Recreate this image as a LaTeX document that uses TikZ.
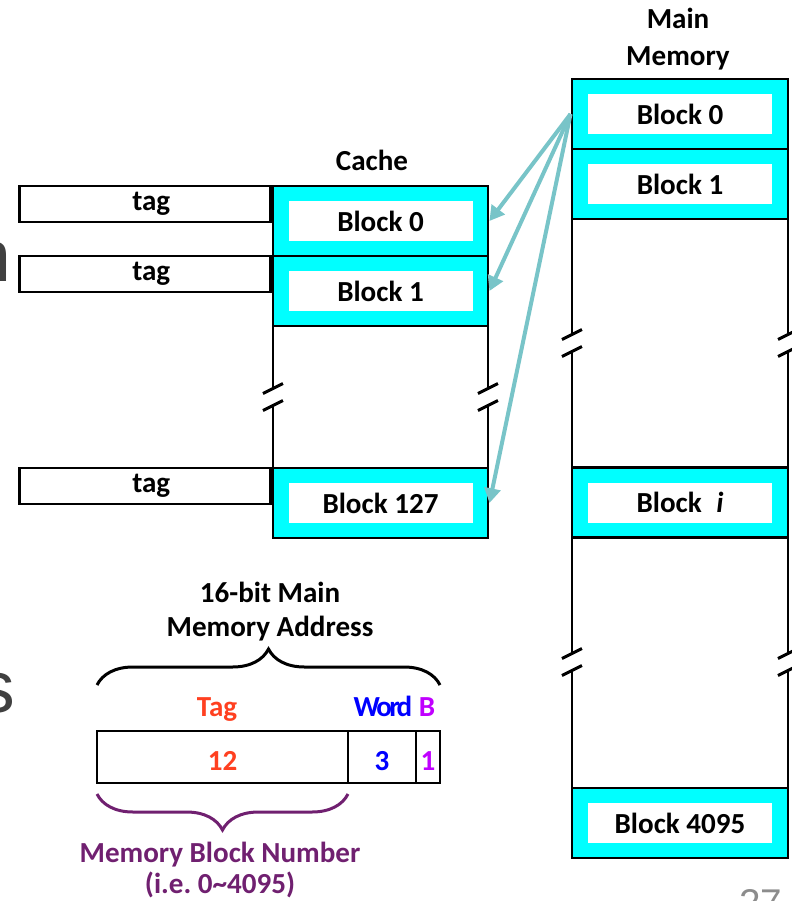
\documentclass[tikz,border=0pt]{standalone}
\usepackage{fontspec}
\setmainfont{Carlito}
\newfontfamily\slidefont{Liberation Sans}
\usetikzlibrary{arrows.meta,positioning,decorations.pathreplacing}
\frenchspacing

\definecolor{cellcyan}{HTML}{00FFFF}
\definecolor{linkteal}{HTML}{78C4C8}
\definecolor{tagred}{HTML}{FF4020}
\definecolor{wordblue}{HTML}{0000FF}
\definecolor{bytepurple}{HTML}{C000FF}
\definecolor{blockplum}{HTML}{702070}

% wall with a break: x, top, break, bottom
\newcommand{\brokenwall}[4]{%
  \draw[wall] (#1,#2) -- (#1,#3-8.5) (#1,#3+8.5) -- (#1,#4);
  \draw[wall] (#1-10,#3-3.5) -- (#1+10,#3-13.5) (#1-10,#3+13.5) -- (#1+10,#3+3.5);
}

\tikzset{
  txt/.style={font=\bfseries\fontsize{21.8}{25}\selectfont, inner sep=0pt},
  wall/.style={line width=2.2pt},
  cell/.style={txt, draw, fill=cellcyan, line width=2.2pt, minimum height=52.5pt,
    path picture={\fill[white] ([xshift=-69pt,yshift=-15pt]path picture bounding box.center)
      rectangle ([xshift=69pt,yshift=15pt]path picture bounding box.center);}},
  cachecell/.style={cell, minimum width=161.25pt},
  memcell/.style={cell, minimum width=162pt},
  tagbox/.style={txt, draw, line width=2.2pt, minimum width=188.25pt, minimum height=27pt},
  field/.style={txt, draw, line width=2.2pt, outer sep=0pt, minimum height=39pt,
    text height=19.5pt, text depth=0pt},
  link/.style={linkteal, line width=3pt, -{Triangle[length=11pt,width=12pt]}},
  brace/.style={decorate, decoration={brace, amplitude=27pt}, line width=2.25pt},
  slide/.style={inner sep=0pt, font=\slidefont\fontsize{55}{60}\selectfont, text=black!75},
}

\begin{document}
\begin{tikzpicture}[x=0.75pt, y=-0.75pt]
    \useasboundingbox (0,0) rectangle (792,901);

    % Main memory
    \node[txt, anchor=base] (mmhead) at (678,28) {Main};
    \node[txt, anchor=base] (mmhead2) at (678,65) {Memory};
    \node[memcell] (m0) at (680,114) {Block 0};
    \node[memcell] (m1) at (680,184) {Block 1};
    \node[memcell] (mi) at (680,502.5) {Block\hspace{0.5em}\textit{i}};
    \node[memcell] (m4095) at (680,823) {Block 4095};
    \brokenwall{572}{219}{343}{467.5}
    \brokenwall{788}{219}{343}{467.5}
    \brokenwall{572}{537.5}{662}{788}
    \brokenwall{788}{537.5}{662}{788}

    % Cache
    \node[txt, anchor=base] (cachehead) at (372,170) {Cache};
    \node[cachecell] (c0) at (380.5,221) {Block 0};
    \node[cachecell] (c1) at (380.5,291) {Block 1};
    \node[cachecell] (c127) at (380.5,503) {Block 127};
    \brokenwall{273}{326}{397}{468}
    \brokenwall{488}{326}{397}{468}

    % Tags
    \node[tagbox, anchor=north east] (t0) at (c0.north west) {\hspace{10pt}tag};
    \node[tagbox, anchor=north east] (t1) at (c1.north west) {\hspace{10pt}tag};
    \node[tagbox, anchor=north east] (t127) at (c127.north west) {\hspace{10pt}tag};

    % Mapping
    \draw[link] (m0.west) -- (c0.east);
    \draw[link] (m0.west) -- (c1.east);
    \draw[link] (m0.west) -- (c127.east);

    % Address
    \node[txt, anchor=base] (addrhead) at (270,602) {16-bit Main};
    \node[txt, anchor=base] (addrhead2) at (270,636) {Memory Address};
    \node[field, minimum width=188.25pt, text=tagred] (ftag) at (222.5,757) {12};
    \node[field, minimum width=51pt, right=0pt of ftag, text=wordblue] (fword) {3};
    \node[field, minimum width=18pt, right=0pt of fword, text=bytepurple] (fbyte) {1};
    \node[txt, anchor=base, text=tagred] (tagtitle) at (217,716) {Tag};
    \node[txt, anchor=base, text=wordblue] (wordtitle) at (383,716) {\addfontfeature{LetterSpace=-9}Word};
    \node[txt, anchor=base, text=bytepurple] (bytetitle) at (427,716) {B};
    \draw[brace] ([yshift=34.5pt]ftag.north west) -- ([yshift=34.5pt]fbyte.north east);
    \draw[brace, blockplum] ([yshift=-8.25pt]ftag.south east) -- ([yshift=-8.25pt]ftag.south west);
    \node[txt, anchor=base, text=blockplum] (blknum) at (220,862) {Memory Block Number};
    \node[txt, anchor=base, text=blockplum] (blknum2) at (220,893) {(i.e. 0\textasciitilde4095)};

    % Slide leftovers
    \begin{scope}
        \clip (0,0) rectangle (792,901);
        \node[slide, anchor=base east] (fragn) at (12,281) {n};
        \node[slide, anchor=base east] (frags) at (15,712) {s};
        \node[slide, anchor=north west, font=\slidefont\fontsize{29}{32}\selectfont, text=black!45] (pageno) at (739,889) {27};
    \end{scope}

\end{tikzpicture}
\end{document}
